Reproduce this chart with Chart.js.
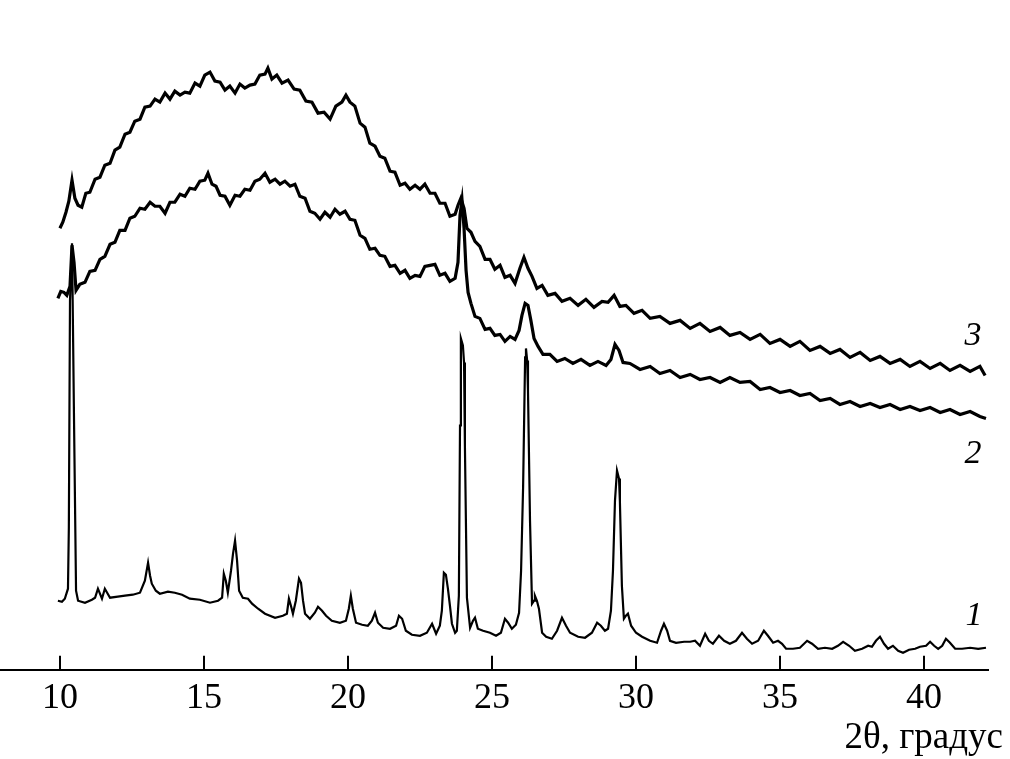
<!DOCTYPE html>
<html>
<head>
<meta charset="utf-8">
<script src="https://cdn.jsdelivr.net/npm/chart.js@4"></script>
<style>
  html, body { margin: 0; padding: 0; background: #fff; }
  #wrap { width: 1010px; height: 759px; }
</style>
</head>
<body>
<div id="wrap"><canvas id="xrd" width="1010" height="759"></canvas></div>
<script>
// x-axis ticks, degrees 2theta
const tickValues = [10, 15, 20, 25, 30, 35, 40];

// curve 1 (crystalline sample)
const curve1X = [9.93, 10.07, 10.17, 10.28, 10.31, 10.35, 10.42, 10.49, 10.56, 10.63, 10.87, 11.11, 11.22, 11.32, 11.46, 11.56, 11.74, 12.01, 12.26, 12.53,
  12.78, 12.95, 13.06, 13.13, 13.19, 13.33, 13.47, 13.75, 13.99, 14.24, 14.51, 14.86, 15.21, 15.49, 15.63, 15.69, 15.76, 15.83, 15.94, 16.01,
  16.08, 16.15, 16.22, 16.35, 16.53, 16.67, 16.88, 17.12, 17.47, 17.74, 17.88, 17.95, 18.02, 18.09, 18.19, 18.30, 18.37, 18.44, 18.51, 18.68,
  18.85, 18.96, 19.10, 19.24, 19.44, 19.72, 19.93, 20.03, 20.10, 20.17, 20.28, 20.49, 20.69, 20.83, 20.94, 21.04, 21.22, 21.46, 21.67, 21.77,
  21.88, 22.01, 22.22, 22.50, 22.74, 22.92, 23.06, 23.19, 23.26, 23.33, 23.40, 23.47, 23.54, 23.61, 23.72, 23.78, 23.85, 23.89, 23.92, 23.99,
  24.03, 24.06, 24.13, 24.24, 24.34, 24.41, 24.51, 24.69, 24.93, 25.14, 25.31, 25.45, 25.56, 25.69, 25.83, 25.94, 26.01, 26.08, 26.15, 26.18,
  26.22, 26.25, 26.32, 26.39, 26.46, 26.49, 26.56, 26.63, 26.74, 26.88, 27.08, 27.26, 27.43, 27.57, 27.71, 27.99, 28.23, 28.47, 28.65, 28.78,
  28.92, 29.03, 29.13, 29.20, 29.27, 29.34, 29.41, 29.44, 29.51, 29.58, 29.65, 29.72, 29.83, 30.00, 30.21, 30.49, 30.73, 30.87, 30.97, 31.08,
  31.18, 31.39, 31.67, 31.88, 32.05, 32.22, 32.40, 32.53, 32.67, 32.88, 33.06, 33.26, 33.47, 33.68, 33.85, 34.03, 34.24, 34.44, 34.58, 34.76,
  34.93, 35.07, 35.21, 35.45, 35.69, 35.94, 36.11, 36.32, 36.56, 36.81, 37.01, 37.19, 37.40, 37.60, 37.85, 38.06, 38.19, 38.33, 38.47, 38.61,
  38.75, 38.92, 39.10, 39.27, 39.48, 39.69, 39.86, 40.07, 40.21, 40.35, 40.49, 40.63, 40.76, 40.90, 41.08, 41.32, 41.60, 41.88, 42.15];
const curve1Y = [69, 68, 71, 81, 142, 369, 426, 249, 79, 69, 67, 70, 72, 81, 71, 81, 72, 73, 74, 75,
  77, 89, 107, 94, 86, 79, 76, 78, 77, 75, 71, 70, 67, 69, 72, 96, 89, 77, 99, 116,
  129, 109, 79, 72, 71, 66, 61, 56, 52, 54, 56, 71, 64, 56, 69, 91, 87, 69, 56, 51,
  57, 63, 59, 54, 49, 47, 49, 61, 74, 61, 47, 45, 44, 49, 57, 47, 42, 41, 44, 54,
  51, 39, 35, 34, 37, 46, 36, 44, 59, 97, 95, 81, 64, 46, 37, 39, 74, 244, 331, 324,
  307, 224, 72, 42, 49, 52, 41, 39, 37, 34, 37, 51, 47, 41, 45, 57, 99, 182, 312, 321,
  309, 279, 149, 66, 69, 74, 69, 61, 37, 33, 31, 39, 52, 44, 37, 33, 32, 37, 47, 44,
  39, 41, 59, 99, 169, 199, 191, 169, 84, 51, 54, 56, 44, 37, 33, 29, 27, 39, 46, 39,
  29, 27, 28, 28, 29, 24, 36, 29, 26, 34, 29, 26, 29, 37, 31, 26, 29, 39, 34, 27,
  29, 26, 21, 21, 22, 29, 26, 21, 22, 21, 24, 28, 24, 19, 21, 24, 23, 29, 33, 26,
  21, 24, 19, 17, 20, 21, 23, 24, 28, 24, 21, 24, 31, 27, 21, 21, 22, 21, 22];

// curve 2
const curve2X = [9.93, 10.03, 10.14, 10.24, 10.35, 10.42, 10.49, 10.56, 10.69, 10.87, 11.04, 11.22, 11.39, 11.56, 11.74, 11.91, 12.08, 12.26, 12.43, 12.60,
  12.78, 12.95, 13.13, 13.30, 13.47, 13.65, 13.82, 13.99, 14.17, 14.34, 14.51, 14.69, 14.86, 15.03, 15.14, 15.28, 15.42, 15.56, 15.73, 15.90,
  16.08, 16.25, 16.42, 16.60, 16.77, 16.94, 17.12, 17.29, 17.47, 17.64, 17.81, 17.99, 18.16, 18.33, 18.51, 18.68, 18.85, 19.03, 19.20, 19.38,
  19.55, 19.72, 19.90, 20.07, 20.24, 20.42, 20.59, 20.76, 20.94, 21.11, 21.28, 21.46, 21.63, 21.81, 21.98, 22.15, 22.33, 22.50, 22.67, 22.85,
  23.02, 23.19, 23.37, 23.54, 23.72, 23.82, 23.89, 23.96, 24.03, 24.10, 24.17, 24.27, 24.41, 24.58, 24.76, 24.93, 25.10, 25.28, 25.45, 25.63,
  25.80, 25.94, 26.04, 26.15, 26.25, 26.35, 26.46, 26.60, 26.77, 27.01, 27.26, 27.53, 27.81, 28.09, 28.40, 28.68, 28.96, 29.13, 29.27, 29.41,
  29.55, 29.79, 30.14, 30.49, 30.83, 31.18, 31.53, 31.88, 32.22, 32.57, 32.92, 33.26, 33.61, 33.96, 34.31, 34.65, 35.00, 35.35, 35.69, 36.04,
  36.39, 36.74, 37.08, 37.43, 37.78, 38.13, 38.47, 38.82, 39.17, 39.51, 39.86, 40.21, 40.56, 40.90, 41.25, 41.60, 41.94, 42.15];
const curve2Y = [371, 378, 377, 374, 383, 424, 407, 379, 385, 387, 398, 399, 410, 413, 425, 427, 439, 439, 451, 453,
  461, 460, 467, 463, 463, 456, 467, 467, 475, 473, 481, 480, 488, 489, 496, 485, 483, 474, 473, 464,
  474, 473, 480, 479, 488, 490, 496, 487, 490, 485, 488, 483, 485, 473, 471, 458, 456, 450, 457, 452,
  460, 455, 458, 450, 449, 434, 431, 420, 421, 414, 413, 403, 404, 396, 399, 391, 394, 393, 403, 404,
  405, 394, 396, 388, 391, 407, 454, 469, 441, 399, 377, 366, 353, 351, 340, 341, 334, 335, 328, 333,
  330, 339, 354, 366, 364, 349, 331, 323, 315, 315, 308, 311, 306, 310, 304, 308, 304, 310, 325, 319,
  307, 306, 300, 303, 296, 299, 292, 295, 290, 292, 287, 292, 287, 288, 280, 282, 277, 279, 274, 276,
  269, 271, 265, 268, 263, 266, 262, 265, 260, 263, 259, 262, 257, 260, 255, 258, 253, 251];

// curve 3
const curve3X = [10.00, 10.10, 10.21, 10.31, 10.42, 10.52, 10.63, 10.76, 10.90, 11.04, 11.22, 11.39, 11.56, 11.74, 11.91, 12.08, 12.26, 12.43, 12.60, 12.78,
  12.95, 13.13, 13.30, 13.47, 13.65, 13.82, 13.99, 14.17, 14.34, 14.51, 14.69, 14.86, 15.03, 15.21, 15.38, 15.56, 15.73, 15.90, 16.08, 16.25,
  16.42, 16.60, 16.77, 16.94, 17.12, 17.22, 17.36, 17.53, 17.71, 17.92, 18.13, 18.33, 18.54, 18.75, 18.96, 19.17, 19.38, 19.58, 19.79, 19.93,
  20.07, 20.24, 20.42, 20.59, 20.76, 20.94, 21.11, 21.28, 21.46, 21.63, 21.81, 21.98, 22.15, 22.33, 22.50, 22.67, 22.85, 23.02, 23.19, 23.37,
  23.54, 23.72, 23.82, 23.92, 24.03, 24.13, 24.27, 24.41, 24.58, 24.76, 24.93, 25.10, 25.28, 25.45, 25.63, 25.80, 25.97, 26.11, 26.25, 26.39,
  26.56, 26.74, 26.94, 27.19, 27.43, 27.71, 27.99, 28.26, 28.54, 28.82, 29.03, 29.24, 29.44, 29.65, 29.93, 30.21, 30.49, 30.83, 31.18, 31.53,
  31.88, 32.22, 32.57, 32.92, 33.26, 33.61, 33.96, 34.31, 34.65, 35.00, 35.35, 35.69, 36.04, 36.39, 36.74, 37.08, 37.43, 37.78, 38.13, 38.47,
  38.82, 39.17, 39.51, 39.86, 40.21, 40.56, 40.90, 41.25, 41.60, 41.94, 42.12];
const curve3Y = [441, 447, 457, 468, 489, 471, 464, 462, 476, 477, 490, 492, 504, 506, 519, 522, 535, 537, 548, 550,
  562, 563, 570, 567, 576, 570, 578, 574, 577, 576, 586, 583, 594, 597, 588, 587, 579, 583, 576, 585,
  581, 584, 585, 594, 595, 601, 590, 594, 586, 589, 580, 579, 568, 567, 556, 557, 550, 563, 567, 574,
  567, 563, 546, 542, 526, 523, 513, 511, 498, 497, 484, 486, 480, 484, 480, 485, 476, 476, 466, 466,
  453, 455, 464, 471, 461, 441, 437, 428, 423, 410, 410, 400, 404, 392, 394, 386, 401, 412, 401, 393,
  381, 384, 374, 376, 368, 371, 364, 370, 362, 368, 367, 374, 363, 364, 356, 359, 351, 353, 346, 349,
  341, 346, 338, 342, 334, 337, 330, 335, 326, 330, 323, 328, 319, 323, 316, 320, 312, 317, 309, 313,
  306, 310, 303, 308, 301, 306, 299, 304, 298, 303, 294];

function points(xs, ys) {
  return xs.map((x, i) => ({ x: x, y: ys[i] }));
}

const serif = '"Liberation Serif", "Times New Roman", serif';

// curve numbers and axis caption
const annotations = {
  id: 'annotations',
  afterDraw(chart) {
    const ctx = chart.ctx;
    ctx.save();
    ctx.fillStyle = '#000';
    ctx.textBaseline = 'alphabetic';
    ctx.textAlign = 'center';
    ctx.font = 'italic 34px ' + serif;
    ctx.fillText('3', 973, 345);
    ctx.fillText('2', 973, 463);
    ctx.fillText('1', 974, 625);
    ctx.textAlign = 'right';
    ctx.font = '37px ' + serif;
    ctx.fillText('2θ, градус', 1003, 748);
    ctx.restore();
  }
};

new Chart(document.getElementById('xrd'), {
  type: 'line',
  data: {
    datasets: [
      { label: '1', data: points(curve1X, curve1Y), borderColor: '#000', borderWidth: 2.2 },
      { label: '2', data: points(curve2X, curve2Y), borderColor: '#000', borderWidth: 3.2 },
      { label: '3', data: points(curve3X, curve3Y), borderColor: '#000', borderWidth: 3.2 }
    ]
  },
  options: {
    responsive: false,
    animation: false,
    devicePixelRatio: 1,
    layout: { padding: { left: 0, right: 22, top: 0, bottom: 18 } },
    elements: { point: { radius: 0 }, line: { tension: 0 } },
    plugins: { legend: { display: false }, tooltip: { enabled: false } },
    scales: {
      x: {
        type: 'linear',
        min: 7.92,
        max: 42.22,
        afterBuildTicks: (axis) => { axis.ticks = tickValues.map(v => ({ value: v })); },
        grid: { display: true, drawOnChartArea: false, drawTicks: true, tickLength: -14, color: '#000', lineWidth: 2 },
        border: { display: true, color: '#000', width: 2 },
        ticks: { color: '#000', padding: 21, maxRotation: 0, font: { family: serif, size: 36 } }
      },
      y: { display: false, min: 0, max: 669 }
    }
  },
  plugins: [annotations]
});
</script>
</body>
</html>
